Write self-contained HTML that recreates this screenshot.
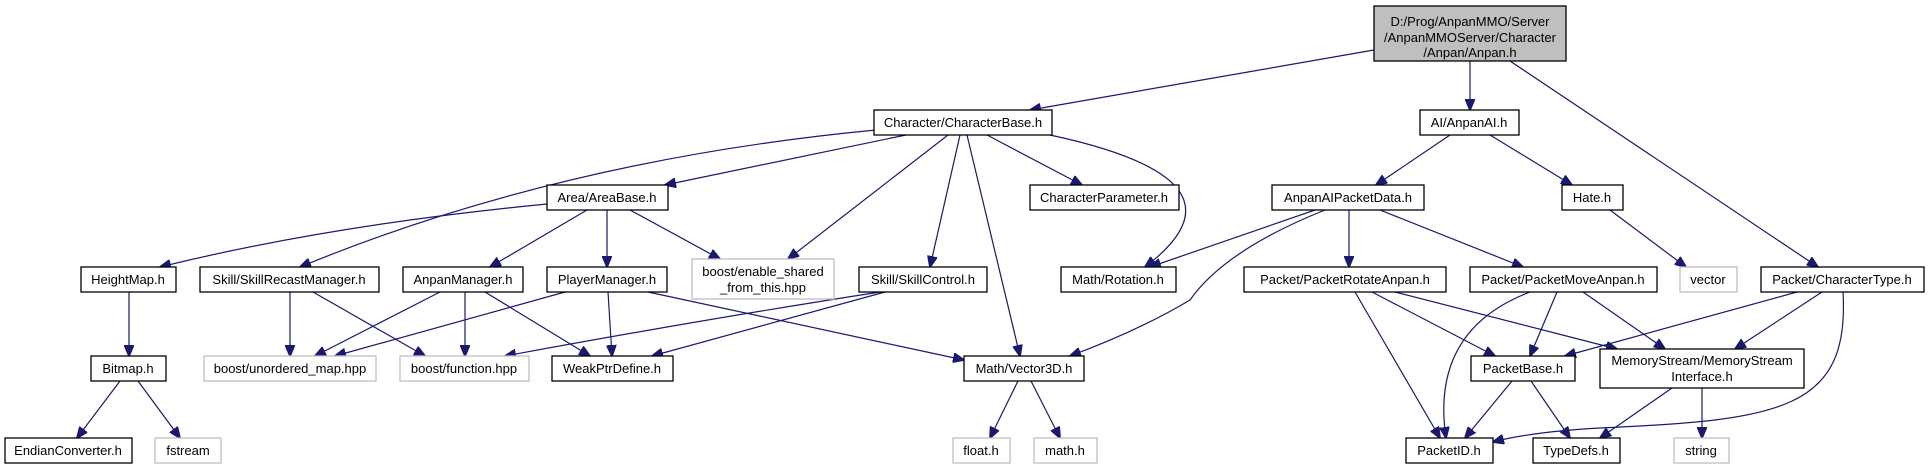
<!DOCTYPE html>
<html><head><meta charset="utf-8"><style>
html,body{margin:0;padding:0;background:#fff;}
svg{display:block;}
text{font-family:"Liberation Sans",sans-serif;font-size:13px;fill:#000;}
</style></head><body>
<svg width="1929" height="469" viewBox="0 0 1929 469" xmlns="http://www.w3.org/2000/svg">
<defs>
<marker id="a" markerWidth="12" markerHeight="10" refX="11" refY="5" orient="auto" markerUnits="userSpaceOnUse">
<path d="M0,0 L12,5 L0,10 z" fill="#191970" stroke="#191970"/>
</marker>
</defs>
<g fill="none" stroke="#191970" stroke-width="1.2" marker-end="url(#a)">
<path d="M1374,50 L1030,110"/>
<path d="M1470,61 L1470,110"/>
<path d="M1510,61 L1818,267"/>
<path d="M876,130 Q560,160 300,267"/>
<path d="M906,135 L665,185"/>
<path d="M948,135 L788,259"/>
<path d="M960,135 L930,267"/>
<path d="M967,135 L1020,356"/>
<path d="M987,135 L1082,185"/>
<path d="M1050,135 Q1260,180 1145,267"/>
<path d="M547,204 Q330,225 160,267"/>
<path d="M587,210 L490,267"/>
<path d="M607,210 L607,267"/>
<path d="M630,210 L720,259"/>
<path d="M290,292 L290,356"/>
<path d="M313,292 L425,356"/>
<path d="M440,292 L315,356"/>
<path d="M465,292 L465,356"/>
<path d="M485,292 L590,356"/>
<path d="M565,292 L335,356"/>
<path d="M608,292 L612,356"/>
<path d="M648,292 L964,360"/>
<path d="M880,292 Q700,320 505,356"/>
<path d="M885,292 L652,356"/>
<path d="M129,292 L129,356"/>
<path d="M120,381 L77,438"/>
<path d="M138,381 L180,438"/>
<path d="M1018,381 L990,438"/>
<path d="M1031,381 L1060,438"/>
<path d="M1450,135 L1376,185"/>
<path d="M1490,135 L1572,185"/>
<path d="M1610,210 L1686,267"/>
<path d="M1315,210 L1150,267"/>
<path d="M1325,210 Q1225,250 1190,300 Q1140,330 1070,356"/>
<path d="M1349,210 L1349,267"/>
<path d="M1380,210 L1523,267"/>
<path d="M1355,292 L1440,438"/>
<path d="M1372,292 L1495,356"/>
<path d="M1395,292 L1617,349"/>
<path d="M1530,292 Q1430,330 1446,438"/>
<path d="M1557,292 L1530,356"/>
<path d="M1583,292 L1665,349"/>
<path d="M1797,292 L1565,356"/>
<path d="M1822,292 L1735,349"/>
<path d="M1843,292 C1850,410 1780,420 1600,428 Q1530,432 1493,442"/>
<path d="M1512,381 L1465,438"/>
<path d="M1531,381 L1570,438"/>
<path d="M1672,388 L1600,438"/>
<path d="M1702,388 L1702,438"/>
</g>
<g stroke-width="1.3">
<rect x="1374" y="6" width="192" height="55" fill="#bfbfbf" stroke="#000"/>
<g fill="#fff" stroke="#000">
<rect x="874" y="110" width="178" height="25"/>
<rect x="1420" y="110" width="99" height="25"/>
<rect x="547" y="185" width="121" height="25"/>
<rect x="1030" y="185" width="149" height="25"/>
<rect x="1272" y="185" width="152" height="25"/>
<rect x="1562" y="185" width="61" height="25"/>
<rect x="81" y="267" width="95" height="25"/>
<rect x="200" y="267" width="179" height="25"/>
<rect x="403" y="267" width="120" height="25"/>
<rect x="547" y="267" width="120" height="25"/>
<rect x="859" y="267" width="128" height="25"/>
<rect x="1061" y="267" width="115" height="25"/>
<rect x="1244" y="267" width="202" height="25"/>
<rect x="1470" y="267" width="187" height="25"/>
<rect x="1761" y="267" width="163" height="25"/>
<rect x="91" y="356" width="75" height="25"/>
<rect x="552" y="356" width="121" height="25"/>
<rect x="964" y="356" width="120" height="25"/>
<rect x="1471" y="356" width="104" height="25"/>
<rect x="1600" y="349" width="204" height="39"/>
<rect x="5" y="438" width="127" height="25"/>
<rect x="1406" y="438" width="87" height="25"/>
<rect x="1533" y="438" width="87" height="25"/>
</g>
<g fill="#fff" stroke="#bfbfbf">
<rect x="692" y="259" width="142" height="40"/>
<rect x="1680" y="267" width="57" height="25"/>
<rect x="204" y="356" width="172" height="25"/>
<rect x="400" y="356" width="129" height="25"/>
<rect x="155" y="438" width="66" height="25"/>
<rect x="953" y="438" width="57" height="25"/>
<rect x="1034" y="438" width="63" height="25"/>
<rect x="1674" y="438" width="55" height="25"/>
</g>
</g>
<g text-anchor="middle">
<text x="1470" y="26">D:/Prog/AnpanMMO/Server</text>
<text x="1470" y="42">/AnpanMMOServer/Character</text>
<text x="1470" y="57">/Anpan/Anpan.h</text>
<text x="963" y="127">Character/CharacterBase.h</text>
<text x="1469" y="127">AI/AnpanAI.h</text>
<text x="607" y="202">Area/AreaBase.h</text>
<text x="1104" y="202">CharacterParameter.h</text>
<text x="1348" y="202">AnpanAIPacketData.h</text>
<text x="1592" y="202">Hate.h</text>
<text x="128" y="284">HeightMap.h</text>
<text x="289" y="284">Skill/SkillRecastManager.h</text>
<text x="463" y="284">AnpanManager.h</text>
<text x="607" y="284">PlayerManager.h</text>
<text x="763" y="276">boost/enable_shared</text>
<text x="763" y="292">_from_this.hpp</text>
<text x="923" y="284">Skill/SkillControl.h</text>
<text x="1118" y="284">Math/Rotation.h</text>
<text x="1345" y="284">Packet/PacketRotateAnpan.h</text>
<text x="1563" y="284">Packet/PacketMoveAnpan.h</text>
<text x="1708" y="284">vector</text>
<text x="1842" y="284">Packet/CharacterType.h</text>
<text x="128" y="373">Bitmap.h</text>
<text x="290" y="373">boost/unordered_map.hpp</text>
<text x="464" y="373">boost/function.hpp</text>
<text x="612" y="373">WeakPtrDefine.h</text>
<text x="1024" y="373">Math/Vector3D.h</text>
<text x="1523" y="373">PacketBase.h</text>
<text x="1702" y="365">MemoryStream/MemoryStream</text>
<text x="1702" y="381">Interface.h</text>
<text x="68" y="455">EndianConverter.h</text>
<text x="188" y="455">fstream</text>
<text x="981" y="455">float.h</text>
<text x="1065" y="455">math.h</text>
<text x="1449" y="455">PacketID.h</text>
<text x="1576" y="455">TypeDefs.h</text>
<text x="1701" y="455">string</text>
</g>
</svg>
</body></html>
